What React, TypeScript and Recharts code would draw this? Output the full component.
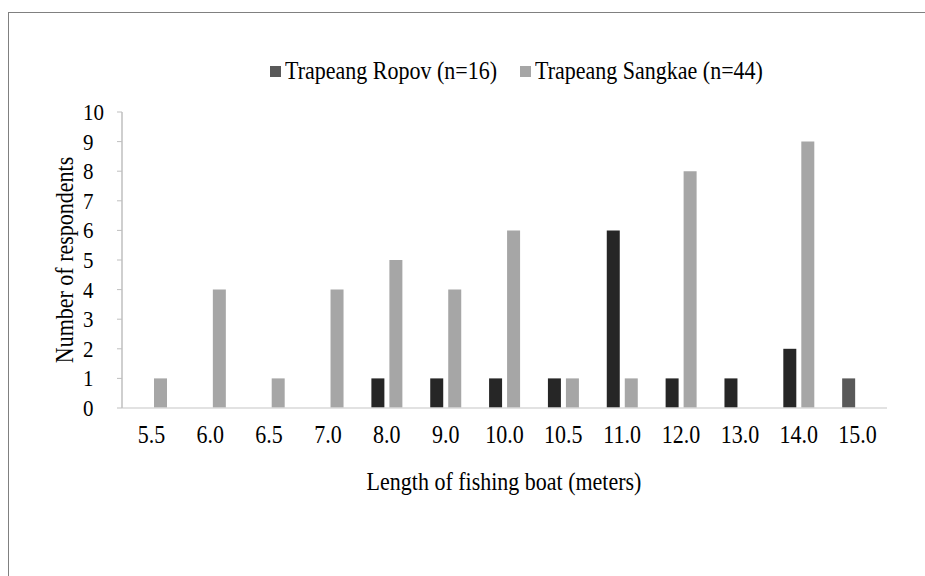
import { BarChart, Bar, XAxis, YAxis, Cell } from "recharts";

const lengths = ["5.5", "6.0", "6.5", "7.0", "8.0", "9.0", "10.0", "10.5", "11.0", "12.0", "13.0", "14.0", "15.0"];
const ropov = [0, 0, 0, 0, 1, 1, 1, 1, 6, 1, 1, 2, 1];
const sangkae = [1, 4, 1, 4, 5, 4, 6, 1, 1, 8, 0, 9, 0];
const yTicks = [0, 1, 2, 3, 4, 5, 6, 7, 8, 9, 10];

const ropovColors = ["#262626", "#262626", "#262626", "#262626", "#262626", "#262626", "#262626", "#262626", "#262626", "#262626", "#262626", "#262626", "#595959"];

const data = lengths.map((name, i) => ({ name, ropov: ropov[i], sangkae: sangkae[i] }));

const FONT = "'Liberation Serif', 'Times New Roman', serif";
// text in the original looks a little stretched vertically
const SY = 1.12;

const XTick = ({ x, payload }: any) => (
  <text transform={`translate(${x},443) scale(1,${SY})`} textAnchor="middle" fontFamily={FONT} fontSize={22} fill="#000">
    {payload.value}
  </text>
);

const YTick = ({ y, payload }: any) => (
  <text transform={`translate(83,${y + 8}) scale(1,${SY})`} textAnchor="start" fontFamily={FONT} fontSize={21} fill="#000">
    {payload.value}
  </text>
);

const YTitle = () => (
  <text transform={`translate(73,260) rotate(-90) scale(1,${SY})`} textAnchor="middle" fontFamily={FONT} fontSize={22} fill="#000">
    Number of respondents
  </text>
);

const XTitle = () => (
  <text transform={`translate(504,490) scale(1,${SY})`} textAnchor="middle" fontFamily={FONT} fontSize={22} fill="#000">
    Length of fishing boat (meters)
  </text>
);

export default function App() {
  return (
    <div style={{ position: "absolute", left: 0, top: 0, width: 925, height: 576, overflow: "hidden", background: "#fff" }}>
      <div style={{ position: "absolute", left: 8, top: 12, width: 1200, height: 1200, border: "1px solid #808080" }} />
      {/* legend */}
      <div style={{ position: "absolute", left: 270, top: 58, display: "flex", alignItems: "center", fontFamily: FONT, fontSize: 22, color: "#000", whiteSpace: "nowrap" }}>
        <span style={{ width: 11, height: 11, background: "#595959", display: "inline-block", marginRight: 4 }} />
        <span style={{ display: "inline-block", transform: `scaleY(${SY})` }}>Trapeang Ropov (n=16)</span>
        <span style={{ width: 11, height: 11, background: "#a6a6a6", display: "inline-block", marginLeft: 23, marginRight: 4 }} />
        <span style={{ display: "inline-block", transform: `scaleY(${SY})` }}>Trapeang Sangkae (n=44)</span>
      </div>
      <BarChart
        width={925}
        height={576}
        data={data}
        margin={{ top: 112, right: 38, bottom: 138, left: 0 }}
        barSize={13}
        barGap={5}
        style={{ position: "absolute", left: 0, top: 0 }}
      >
        <XAxis
          dataKey="name"
          height={30}
          tick={<XTick />}
          tickLine={false}
          axisLine={{ stroke: "#d9d9d9", strokeWidth: 1.5 }}
          label={<XTitle />}
        />
        <YAxis
          width={122}
          domain={[0, 10]}
          ticks={yTicks}
          interval={0}
          tick={<YTick />}
          tickSize={5}
          tickLine={{ stroke: "#bfbfbf" }}
          axisLine={{ stroke: "#bfbfbf", strokeWidth: 1.5 }}
          label={<YTitle />}
        />
        <Bar dataKey="ropov" fill="#262626" isAnimationActive={false}>
          {data.map((_, i) => (
            <Cell key={i} fill={ropovColors[i]} />
          ))}
        </Bar>
        <Bar dataKey="sangkae" fill="#a6a6a6" isAnimationActive={false} />
      </BarChart>
    </div>
  );
}
